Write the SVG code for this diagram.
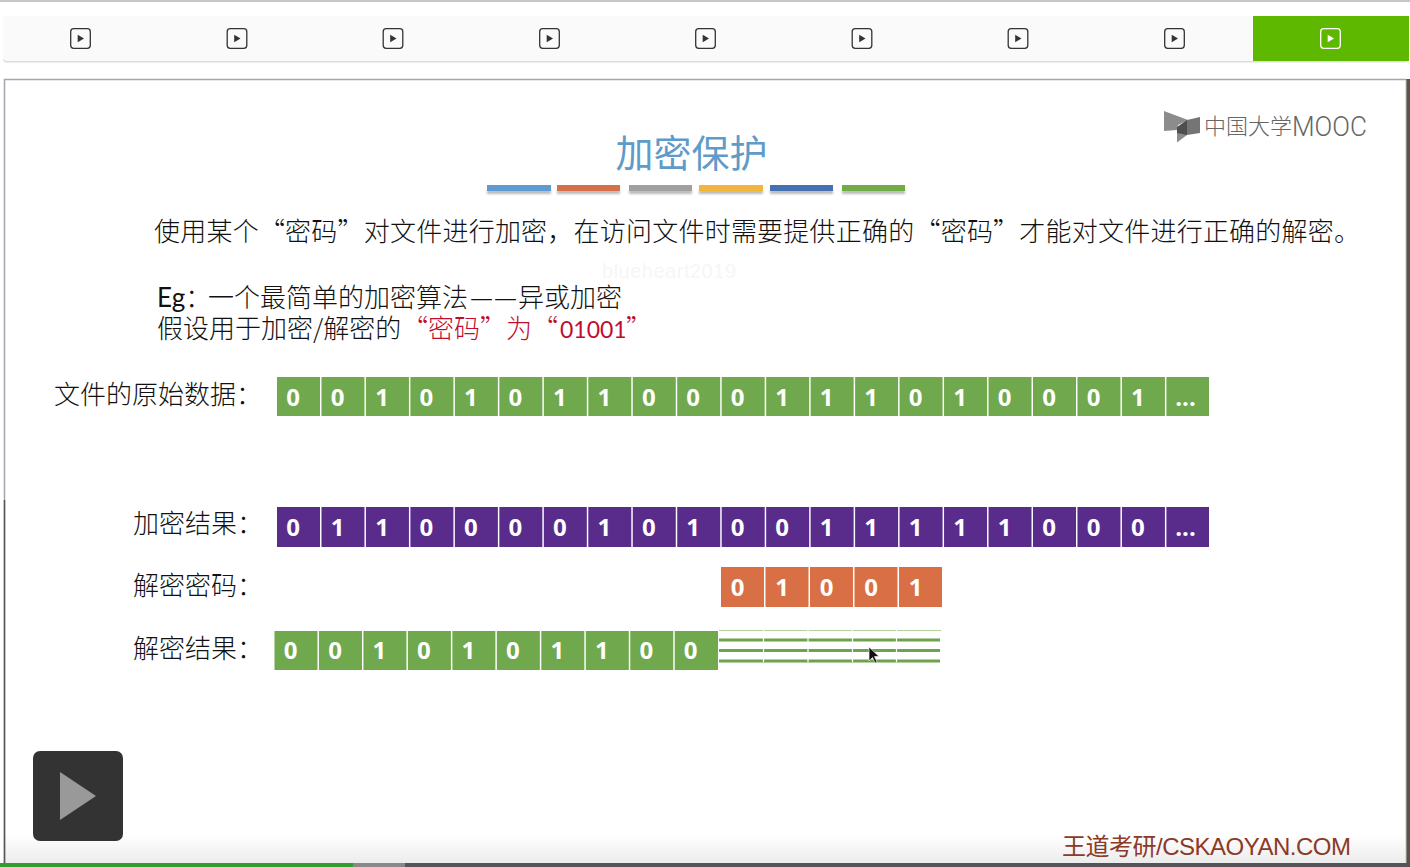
<svg xmlns="http://www.w3.org/2000/svg" width="1410" height="867" viewBox="0 0 1410 867">
<style>
.cjk{font-family:"Noto Sans CJK SC","Noto Sans",sans-serif;font-size:26px;fill:#111;font-weight:300}
.num{font-family:"Open Sans","Liberation Sans",sans-serif;font-size:24px;font-weight:700;fill:#fff;text-anchor:middle}
.g{fill:#70a84e}.p{fill:#592c8c}.o{fill:#d86f45}
.ln{stroke:#6ea24c;stroke-width:3}
.ic{fill:none;stroke:#333;stroke-width:1.3}
.tri{fill:#333}
.lat{font-family:Lato,"Noto Sans",sans-serif;font-weight:400}
</style>
<defs>
<linearGradient id="fade" x1="0" y1="0" x2="0" y2="1"><stop offset="0" stop-color="#fff"/><stop offset="1" stop-color="#ececec"/></linearGradient>
<filter id="soft" x="-5%" y="-100%" width="110%" height="300%"><feGaussianBlur stdDeviation="1.2"/></filter>
<g id="pi"><rect class="ic" x="-9.800" y="-9.800" width="19.600" height="19.600" rx="3"/><path class="tri" d="M-2.800-3.800L3.500 0L-2.800 3.800Z"/></g>
</defs>
<rect width="1410" height="867" fill="#fff"/>
<rect width="1410" height="2" fill="#c8c8c8"/>
<g id="toolbar">
<rect x="3" y="17" width="1406" height="45.500" rx="4" fill="#dcdcdc"/>
<rect x="3" y="16" width="1406" height="45" rx="4" fill="#fafafa"/>
<rect x="1253" y="16" width="156" height="45" fill="#5fb800"/>
<use href="#pi" x="80.500" y="38.500"/><use href="#pi" x="237" y="38.500"/><use href="#pi" x="393" y="38.500"/><use href="#pi" x="549.500" y="38.500"/><use href="#pi" x="705.500" y="38.500"/><use href="#pi" x="862" y="38.500"/><use href="#pi" x="1018" y="38.500"/><use href="#pi" x="1174.500" y="38.500"/>
<rect x="1320.700" y="28.700" width="19.600" height="19.600" rx="3" fill="none" stroke="#fff" stroke-width="1.300"/><path d="M1327.700 34.700L1334 38.500L1327.700 42.300Z" fill="#fff"/>
</g>
<g id="slide">
<rect x="1406" y="79" width="4" height="784" fill="#5a5448"/>
<rect x="4" y="835" width="1402" height="28" fill="url(#fade)"/>
<path d="M4.500 863V79.500H1406" fill="none" stroke="#a5a5ad" stroke-width="1.500"/>
<path d="M4.500 500V863" fill="none" stroke="#55555c" stroke-width="1.500"/>
<path d="M1406 79.500V863" fill="none" stroke="#c4c4c4" stroke-width="1"/>
</g>
<g id="progress"><rect y="863" width="1410" height="4" fill="#55525a"/><rect y="863" width="353" height="4" fill="#2e9e2e"/><rect x="353" y="863" width="52" height="4" fill="#8a888a"/></g>
<g id="logo">
<path d="M1164 111L1188 120L1178 125L1177 130L1164 131Z" fill="#8c8c8c"/>
<path d="M1187 120L1200 117V133L1187 135Z" fill="#757575"/>
<path d="M1177 127L1187 120V135L1177 136Z" fill="#4e4e4e"/>
<path d="M1177 133L1187 135L1177 142.500Z" fill="#8c8c8c"/>
<text x="1204" y="134" class="cjk" style="font-size:22px;fill:#666">中国大学</text>
<text x="1292" y="135.500" style="font-family:Roboto,'Liberation Sans',sans-serif;font-weight:300;font-size:27px;fill:#666" textLength="75" lengthAdjust="spacingAndGlyphs">MOOC</text>
</g>
<g id="title">
<text x="691.500" y="167" class="cjk" style="font-size:38px;fill:#5f9bc9;font-weight:400" text-anchor="middle">加密保护</text>
<path d="M487 190h64v4h-64zM557 190h63v4h-63zM629 190h63v4h-63zM699 190h64v4h-64zM770 190h63v4h-63zM842 190h63v4h-63z" fill="#777" opacity=".5" filter="url(#soft)"/>
<rect x="487" y="185" width="64" height="6" fill="#5f9bd0"/><rect x="557" y="185" width="63" height="6" fill="#d4704a"/><rect x="629" y="185" width="63" height="6" fill="#a0a0a0"/><rect x="699" y="185" width="64" height="6" fill="#f2b63f"/><rect x="770" y="185" width="63" height="6" fill="#4670b4"/><rect x="842" y="185" width="63" height="6" fill="#70ad47"/>
</g>
<text id="watermark" x="602" y="278" style="font-family:'Liberation Sans',sans-serif;font-size:20px;fill:#f6f6f6" textLength="134">blueheart2019</text>
<text id="intro" x="154" y="241" class="cjk" textLength="1206">使用某个“密码”对文件进行加密，在访问文件时需要提供正确的“密码”才能对文件进行正确的解密。</text>
<g id="example">
<text x="157" y="307" class="cjk"><tspan class="lat">Eg</tspan>：<tspan x="208">一个最简单的加密算法</tspan><tspan x="470">—</tspan><tspan x="494">—</tspan><tspan x="518">异或加密</tspan></text>
<text x="157" y="338" class="cjk">假设用于加密/解密的<tspan x="402" fill="#c00d2e">“密码”为“</tspan><tspan x="560" fill="#c00d2e" class="lat" style="font-size:23px">01001</tspan><tspan x="626" fill="#c00d2e">”</tspan></text>
</g>
<g id="row-original">
<text x="54" y="404" class="cjk">文件的原始数据：</text>
<g class="g"><rect x="277" y="377" width="43" height="39"/><rect x="321.470" y="377" width="43" height="39"/><rect x="365.940" y="377" width="43" height="39"/><rect x="410.410" y="377" width="43" height="39"/><rect x="454.880" y="377" width="43" height="39"/><rect x="499.350" y="377" width="43" height="39"/><rect x="543.820" y="377" width="43" height="39"/><rect x="588.290" y="377" width="43" height="39"/><rect x="632.760" y="377" width="43" height="39"/><rect x="677.230" y="377" width="43" height="39"/><rect x="721.700" y="377" width="43" height="39"/><rect x="766.170" y="377" width="43" height="39"/><rect x="810.640" y="377" width="43" height="39"/><rect x="855.110" y="377" width="43" height="39"/><rect x="899.580" y="377" width="43" height="39"/><rect x="944.050" y="377" width="43" height="39"/><rect x="988.520" y="377" width="43" height="39"/><rect x="1032.990" y="377" width="43" height="39"/><rect x="1077.460" y="377" width="43" height="39"/><rect x="1121.930" y="377" width="43" height="39"/><rect x="1166.400" y="377" width="42.600" height="39"/></g>
<text class="num" y="405.500"><tspan x="293">0</tspan><tspan x="337.500">0</tspan><tspan x="382">1</tspan><tspan x="426.400">0</tspan><tspan x="470.900">1</tspan><tspan x="515.400">0</tspan><tspan x="559.800">1</tspan><tspan x="604.300">1</tspan><tspan x="648.800">0</tspan><tspan x="693.200">0</tspan><tspan x="737.700">0</tspan><tspan x="782.200">1</tspan><tspan x="826.600">1</tspan><tspan x="871.100">1</tspan><tspan x="915.600">0</tspan><tspan x="960">1</tspan><tspan x="1004.500">0</tspan><tspan x="1049">0</tspan><tspan x="1093.500">0</tspan><tspan x="1137.900">1</tspan><tspan x="1185.500">...</tspan></text>
</g>
<g id="row-encrypted">
<text x="133" y="533" class="cjk">加密结果：</text>
<g class="p"><rect x="277" y="507" width="43" height="40"/><rect x="321.470" y="507" width="43" height="40"/><rect x="365.940" y="507" width="43" height="40"/><rect x="410.410" y="507" width="43" height="40"/><rect x="454.880" y="507" width="43" height="40"/><rect x="499.350" y="507" width="43" height="40"/><rect x="543.820" y="507" width="43" height="40"/><rect x="588.290" y="507" width="43" height="40"/><rect x="632.760" y="507" width="43" height="40"/><rect x="677.230" y="507" width="43" height="40"/><rect x="721.700" y="507" width="43" height="40"/><rect x="766.170" y="507" width="43" height="40"/><rect x="810.640" y="507" width="43" height="40"/><rect x="855.110" y="507" width="43" height="40"/><rect x="899.580" y="507" width="43" height="40"/><rect x="944.050" y="507" width="43" height="40"/><rect x="988.520" y="507" width="43" height="40"/><rect x="1032.990" y="507" width="43" height="40"/><rect x="1077.460" y="507" width="43" height="40"/><rect x="1121.930" y="507" width="43" height="40"/><rect x="1166.400" y="507" width="42.600" height="40"/></g>
<text class="num" y="536"><tspan x="293">0</tspan><tspan x="337.500">1</tspan><tspan x="382">1</tspan><tspan x="426.400">0</tspan><tspan x="470.900">0</tspan><tspan x="515.400">0</tspan><tspan x="559.800">0</tspan><tspan x="604.300">1</tspan><tspan x="648.800">0</tspan><tspan x="693.200">1</tspan><tspan x="737.700">0</tspan><tspan x="782.200">0</tspan><tspan x="826.600">1</tspan><tspan x="871.100">1</tspan><tspan x="915.600">1</tspan><tspan x="960">1</tspan><tspan x="1004.500">1</tspan><tspan x="1049">0</tspan><tspan x="1093.500">0</tspan><tspan x="1137.900">0</tspan><tspan x="1185.500">...</tspan></text>
</g>
<g id="row-key">
<text x="133" y="595" class="cjk">解密密码：</text>
<g class="o"><rect x="721" y="567" width="43" height="40"/><rect x="765.500" y="567" width="43" height="40"/><rect x="810" y="567" width="43" height="40"/><rect x="854.500" y="567" width="43" height="40"/><rect x="899" y="567" width="43" height="40"/></g>
<text class="num" y="596"><tspan x="737.500">0</tspan><tspan x="782">1</tspan><tspan x="826.500">0</tspan><tspan x="871">0</tspan><tspan x="915.500">1</tspan></text>
</g>
<g id="row-decrypted">
<text x="133" y="658" class="cjk">解密结果：</text>
<g class="g"><rect x="274.500" y="631" width="43" height="39"/><rect x="318.970" y="631" width="43" height="39"/><rect x="363.440" y="631" width="43" height="39"/><rect x="407.910" y="631" width="43" height="39"/><rect x="452.380" y="631" width="43" height="39"/><rect x="496.850" y="631" width="43" height="39"/><rect x="541.320" y="631" width="43" height="39"/><rect x="585.790" y="631" width="43" height="39"/><rect x="630.260" y="631" width="43" height="39"/><rect x="674.730" y="631" width="43.300" height="39"/></g>
<text class="num" y="659"><tspan x="290.500">0</tspan><tspan x="335">0</tspan><tspan x="379.400">1</tspan><tspan x="423.900">0</tspan><tspan x="468.400">1</tspan><tspan x="512.900">0</tspan><tspan x="557.300">1</tspan><tspan x="601.800">1</tspan><tspan x="646.300">0</tspan><tspan x="690.700">0</tspan></text>
<path d="M719 630.500H941" stroke="#b5cf9e" stroke-width="1" fill="none"/>
<path class="ln" d="M719 640H940M719 650.500H940M719 661H940"/>
<path d="M763.500 630V662M808 630V662M852.500 630V662M896.500 630V662" stroke="#fff" stroke-width="1.200" fill="none"/>
</g>
<path id="cursor" d="M869 647V661L872.500 657.500L875 663L877 662L874.500 656.500L879 656.500Z" fill="#111" stroke="#eee" stroke-width=".7"/>
<g id="play-button"><rect x="33" y="751" width="90" height="90" rx="7" fill="#333"/><path d="M60 772L96 796L60 820Z" fill="#999"/></g>
<text id="footer" x="1062" y="855" style="font-family:'Liberation Sans','Noto Sans CJK SC',sans-serif;font-size:24px;fill:#8c3a28" textLength="289">王道考研/CSKAOYAN.COM</text>
</svg>
